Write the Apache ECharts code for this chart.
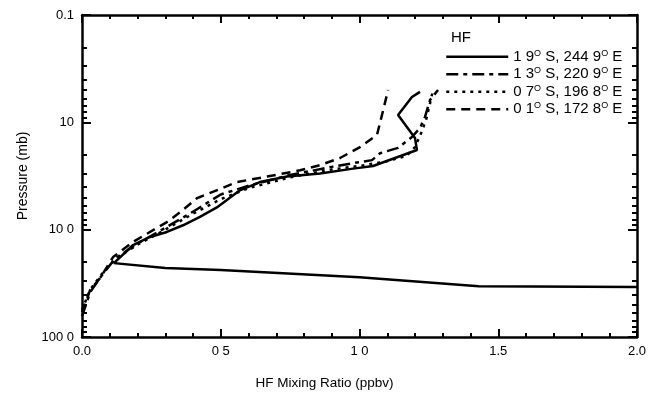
<!DOCTYPE html>
<html><head><meta charset="utf-8">
<script src="https://cdn.jsdelivr.net/npm/echarts@6/dist/echarts.min.js"></script>
<style>html,body{margin:0;padding:0;background:#fff}#c{width:659px;height:399px}</style>
</head><body><div id="c"></div>
<script>
const seriesNames = ["1 9{s|O} S, 244 9{s|O} E", "1 3{s|O} S, 220 9{s|O} E", "0 7{s|O} S, 196 8{s|O} E", "0 1{s|O} S, 172 8{s|O} E"];
const xTickLabels = ["0.0", "0 5", "1 0", "1.5", "2.0"];
const yTickValues = [1, 10, 100, 1000];
const yTickLabels = ["0.1", "10", "10 0", "100 0"];
const yMinorTicks = [2,3,4,5,6,7,8,9,20,30,40,50,60,70,80,90,200,300,400,500,600,700,800,900];

const s19x = [2.0, 1.43, 1.0, 0.5, 0.3, 0.115, 0.184, 0.245, 0.306, 0.364, 0.425, 0.486, 0.569, 0.641, 0.739, 0.858, 0.977, 1.049, 1.207, 1.200, 1.139, 1.189, 1.218];
const s19p = [343, 336, 277, 238, 228, 205, 139, 117, 105, 91, 76, 62, 43, 36, 32, 30, 27, 25.5, 18.1, 14, 8.55, 5.8, 5.2];
const s13x = [0.0, 0.03, 0.07, 0.12, 0.2, 0.3, 0.4, 0.5, 0.6, 0.75, 0.9, 0.977, 1.045, 1.074, 1.139, 1.189, 1.218, 1.236, 1.254, 1.283];
const s13p = [640, 380, 270, 185, 135, 96, 68, 47, 39, 31, 26, 24, 22.5, 19.4, 17.3, 13.7, 11.3, 8.9, 6.2, 5.0];
const s07x = [0.0, 0.03, 0.07, 0.12, 0.2, 0.3, 0.4, 0.5, 0.6, 0.75, 0.9, 1.0, 1.1, 1.17, 1.2, 1.22, 1.24, 1.255, 1.265];
const s07p = [560, 360, 262, 188, 138, 100, 71, 52, 41, 32.5, 27.5, 25.5, 23, 20.5, 17, 13, 9.5, 6.5, 5.0];
const s01x = [0.0, 0.029, 0.065, 0.112, 0.184, 0.306, 0.353, 0.414, 0.559, 0.667, 0.786, 0.858, 0.930, 1.002, 1.063, 1.081, 1.103];
const s01p = [586, 366, 283, 180, 130, 85, 69, 51, 36, 32, 28, 25, 21.5, 17, 13.1, 8.55, 5.0];

const zip = (xs, ps) => xs.map((x, i) => [x, ps[i]]);
const FONT = 'Liberation Sans';
const chart = echarts.init(document.getElementById('c'), null, {renderer: 'canvas'});

const frameX = (pos, show) => ({
  type: 'value', position: pos, min: 0, max: 2, interval: 0.5,
  axisLine: {show: true, onZero: false, lineStyle: {color: '#000', width: 2.5}},
  axisTick: {show: true, inside: true, length: 8, lineStyle: {color: '#000', width: 2}},
  minorTick: {show: true, splitNumber: 5, length: 4, lineStyle: {color: '#000', width: 2}},
  splitLine: {show: false},
  axisLabel: show ? {show: true, color: '#000', fontFamily: FONT, fontSize: 13, margin: 8,
    formatter: v => xTickLabels[Math.round(v / 0.5)]} : {show: false},
  name: show ? 'HF Mixing Ratio (ppbv)' : '',
  nameLocation: 'middle', nameGap: 39,
  nameTextStyle: {color: '#000', fontFamily: FONT, fontSize: 13.5, padding: [0, 70, 0, 0]}
});
const frameY = (pos, show, minor) => ({
  type: 'log', logBase: 10, position: pos, min: 1, max: 1000, inverse: true,
  axisLine: {show: !minor, onZero: false, lineStyle: {color: '#000', width: 2.5}},
  axisTick: minor ? {show: true, inside: true, length: 5, customValues: yMinorTicks, lineStyle: {color: '#000', width: 2}}
                  : {show: true, inside: true, length: 9, lineStyle: {color: '#000', width: 2}},
  splitLine: {show: false},
  axisLabel: (show && !minor) ? {show: true, color: '#000', fontFamily: FONT, fontSize: 13, margin: 8,
    formatter: v => yTickLabels[yTickValues.indexOf(Math.round(v))] || ''} : {show: false},
  name: (show && !minor) ? 'Pressure (mb)' : '',
  nameLocation: 'middle', nameGap: 52, nameRotate: 90,
  nameTextStyle: {color: '#000', fontFamily: FONT, fontSize: 14}
});

const lineSeries = (name, data, type) => ({
  name, type: 'line', data, xAxisIndex: 0, yAxisIndex: 0, symbol: 'none', showSymbol: false, smooth: false,
  lineStyle: {color: '#000', width: 2.5, type: type}, itemStyle: {color: '#000'}, z: 5
});

chart.setOption({
  animation: false,
  backgroundColor: '#fff',
  grid: {left: 82, right: 22, top: 15, bottom: 62},
  title: {text: 'HF', left: 446, top: 25, textStyle: {color: '#000', fontFamily: FONT, fontSize: 15, fontWeight: 'normal'}},
  legend: {
    orient: 'vertical', left: 440, top: 43, itemWidth: 62, itemHeight: 12, itemGap: 0,
    itemStyle: {opacity: 0},
    lineStyle: {width: 2.5},
    textStyle: {color: '#000', fontFamily: FONT, fontSize: 15, lineHeight: 17.5,
      rich: {s: {fontSize: 9, fontFamily: FONT, color: '#000', padding: [0, 0, 7, 0]}}},
    formatter: n => n,
    data: seriesNames
  },
  xAxis: [frameX('bottom', true), frameX('top', false)],
  yAxis: [frameY('left', true, false), frameY('right', false, false), frameY('left', false, true), frameY('right', false, true)],
  series: [
    lineSeries(seriesNames[0], zip(s19x, s19p), 'solid'),
    lineSeries(seriesNames[1], zip(s13x, s13p), [12, 5, 4, 5]),
    lineSeries(seriesNames[2], zip(s07x, s07p), [3, 5]),
    lineSeries(seriesNames[3], zip(s01x, s01p), [9, 6])
  ]
});
</script></body></html>
